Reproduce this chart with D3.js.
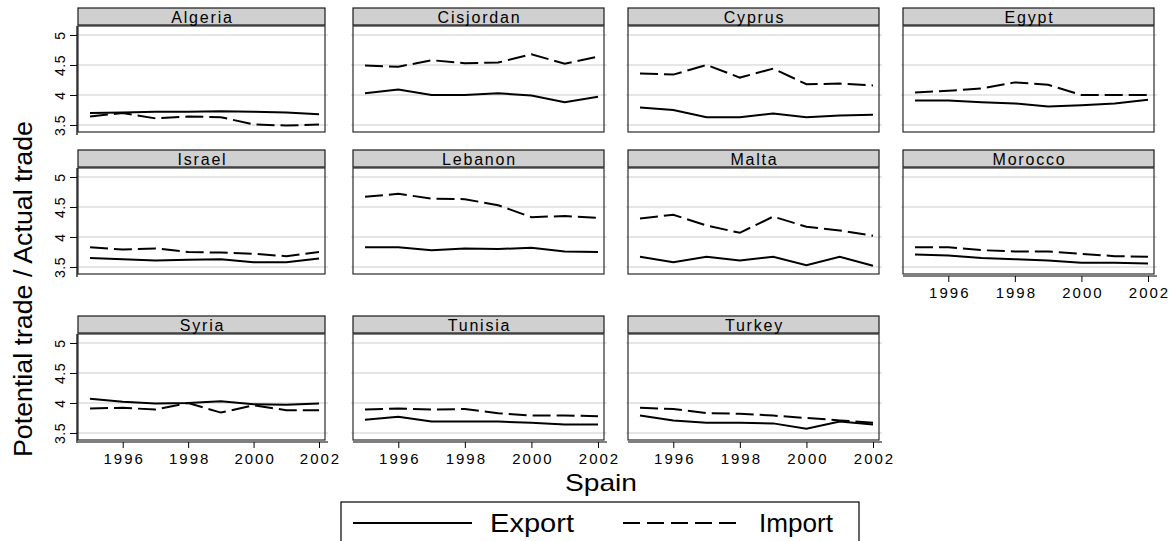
<!DOCTYPE html>
<html><head><meta charset="utf-8">
<script src="https://cdn.jsdelivr.net/npm/d3@7/dist/d3.min.js"></script>
<style>
body{margin:0;background:#fff}
text{font-family:"Liberation Sans",Arial,sans-serif;fill:#000}
</style>
</head><body>
<svg id="c" width="1169" height="541"></svg>
<script>
// ---- data ----
const years = [1995,1996,1997,1998,1999,2000,2001,2002];
const countries = ["Algeria","Cisjordan","Cyprus","Egypt","Israel","Lebanon","Malta","Morocco","Syria","Tunisia","Turkey"];
const algeriaExport   = [3.70,3.71,3.72,3.72,3.73,3.72,3.71,3.68];
const algeriaImport   = [3.64,3.70,3.61,3.64,3.63,3.51,3.49,3.51];
const cisjordanExport = [4.03,4.09,4.00,4.00,4.03,3.99,3.88,3.97];
const cisjordanImport = [4.49,4.47,4.58,4.53,4.54,4.68,4.52,4.64];
const cyprusExport    = [3.79,3.75,3.63,3.63,3.69,3.63,3.66,3.67];
const cyprusImport    = [4.36,4.34,4.50,4.29,4.44,4.18,4.19,4.16];
const egyptExport     = [3.91,3.91,3.88,3.86,3.81,3.83,3.86,3.92];
const egyptImport     = [4.04,4.07,4.11,4.21,4.17,4.00,4.00,4.00];
const israelExport    = [3.65,3.63,3.61,3.62,3.63,3.58,3.58,3.64];
const israelImport    = [3.83,3.79,3.81,3.75,3.74,3.72,3.68,3.75];
const lebanonExport   = [3.83,3.83,3.78,3.81,3.80,3.82,3.76,3.75];
const lebanonImport   = [4.67,4.72,4.64,4.63,4.53,4.33,4.35,4.32];
const maltaExport     = [3.67,3.58,3.67,3.61,3.67,3.53,3.67,3.52];
const maltaImport     = [4.31,4.37,4.19,4.07,4.34,4.17,4.11,4.02];
const moroccoExport   = [3.71,3.69,3.65,3.63,3.61,3.57,3.57,3.56];
const moroccoImport   = [3.83,3.83,3.78,3.76,3.76,3.72,3.68,3.67];
const syriaExport     = [4.07,4.02,3.99,4.00,4.03,3.98,3.97,3.99];
const syriaImport     = [3.91,3.92,3.89,4.00,3.84,3.96,3.88,3.88];
const tunisiaExport   = [3.72,3.77,3.69,3.69,3.69,3.67,3.64,3.64];
const tunisiaImport   = [3.89,3.91,3.89,3.90,3.83,3.79,3.79,3.78];
const turkeyExport    = [3.79,3.71,3.67,3.67,3.66,3.57,3.69,3.64];
const turkeyImport    = [3.92,3.90,3.83,3.82,3.79,3.75,3.71,3.67];
const yTicks = [3.5,4,4.5,5];
const xTicks = [1996,1998,2000,2002];
const seriesNames = ["Export","Import"];
const yTitle = "Potential trade / Actual trade";
const xTitle = "Spain";

const exportSeries = [algeriaExport,cisjordanExport,cyprusExport,egyptExport,israelExport,lebanonExport,maltaExport,moroccoExport,syriaExport,tunisiaExport,turkeyExport];
const importSeries = [algeriaImport,cisjordanImport,cyprusImport,egyptImport,israelImport,lebanonImport,maltaImport,moroccoImport,syriaImport,tunisiaImport,turkeyImport];

// ---- layout ----
const rowTop = [8,150,316];
const colLeft = [78,353,628,903];
const colRight = [325,604,879,1154];
const stripH = 18, plotH = 106;
const yDomain = [3.383,5.15];
const dashes = "18,6";
const svg = d3.select("#c");

countries.forEach((name,i)=>{
  const r = Math.floor(i/4), c = i%4;
  const L = colLeft[c], R = colRight[c];
  const sTop = rowTop[r], pTop = sTop+stripH, pBot = pTop+plotH;
  const x = d3.scaleLinear().domain([1995,2002]).range([L+12, R-6]);
  const y = d3.scaleLinear().domain(yDomain).range([pBot, pTop]);
  const g = svg.append("g");

  g.append("rect").attr("x",L).attr("y",pTop).attr("width",R-L).attr("height",plotH).attr("fill","#fff");
  g.selectAll(".grid").data(yTicks).join("line")
    .attr("x1",L-2).attr("x2",R+3).attr("y1",d=>y(d)).attr("y2",d=>y(d))
    .attr("stroke","#dedede").attr("stroke-width",1.6);
  g.append("rect").attr("x",L).attr("y",pTop).attr("width",R-L).attr("height",plotH)
    .attr("fill","none").attr("stroke","#2a2a2a").attr("stroke-width",1.2);

  const line = d3.line().x((d,j)=>x(years[j])).y(d=>y(d));
  g.append("path").datum(exportSeries[i]).attr("d",line).attr("fill","none")
    .attr("stroke","#000").attr("stroke-width",2);
  g.append("path").datum(importSeries[i]).attr("d",line).attr("fill","none")
    .attr("stroke","#000").attr("stroke-width",2).attr("stroke-dasharray",dashes);

  // strip
  g.append("rect").attr("x",L).attr("y",sTop).attr("width",R-L).attr("height",stripH-1)
    .attr("fill","#d0d0d0").attr("stroke","#1a1a1a").attr("stroke-width",1.2);
  g.append("text").attr("x",(L+R)/2+1).attr("y",sTop+stripH-3.5).attr("text-anchor","middle")
    .attr("font-size",16).attr("letter-spacing",1.8).text(name);

  // y axis
  if (c===0){
    const ya = g.append("g").attr("transform",`translate(${L-1},0)`)
      .call(d3.axisLeft(y).tickValues(yTicks).tickFormat(d3.format("")).tickSize(7).tickSizeOuter(0));
    ya.select(".domain").remove();
    ya.selectAll("line").attr("stroke","#000").attr("stroke-width",1);
    ya.selectAll("text").attr("font-size",14).attr("x",null).attr("dy",null)
      .attr("text-anchor","middle").attr("letter-spacing",0.5)
      .attr("transform","translate(-12,0) rotate(-90)")
      .attr("style","font-family:'Liberation Sans',Arial,sans-serif");
    g.append("line").attr("x1",L-1).attr("x2",L-1).attr("y1",pTop).attr("y2",pBot+3)
      .attr("stroke","#000").attr("stroke-width",1.2);
  }
  // x axis
  if (r===2 || (r===1 && c===3)){
    const xa = g.append("g").attr("transform",`translate(0,${pBot+2})`)
      .call(d3.axisBottom(x).tickValues(xTicks).tickFormat(d3.format("d")).tickSize(6).tickSizeOuter(0).tickPadding(5));
    xa.select(".domain").remove();
    xa.selectAll("line").attr("stroke","#000").attr("stroke-width",1);
    xa.selectAll("text").attr("font-size",15).attr("letter-spacing",2).attr("dx",1)
      .attr("fill","#000").attr("font-family","'Liberation Sans',Arial,sans-serif");
    g.append("line").attr("x1",L).attr("x2",R+3).attr("y1",pBot+2).attr("y2",pBot+2)
      .attr("stroke","#000").attr("stroke-width",1.2);
  }
});

// titles
svg.append("text").attr("transform","translate(32,289) rotate(-90)").attr("text-anchor","middle")
  .attr("font-size",25).attr("textLength",336).attr("lengthAdjust","spacingAndGlyphs").text(yTitle);
svg.append("text").attr("x",601).attr("y",491).attr("text-anchor","middle")
  .attr("font-size",24).attr("textLength",72).attr("lengthAdjust","spacingAndGlyphs").text(xTitle);

// legend
const lg = svg.append("g");
lg.append("rect").attr("x",341).attr("y",502).attr("width",518).attr("height",50)
  .attr("fill","#fff").attr("stroke","#000").attr("stroke-width",1.2);
const legendItems = [
  {name:seriesNames[0], x1:353, x2:472, tx:490, len:84, dash:null},
  {name:seriesNames[1], x1:623, x2:740, tx:759, len:74, dash:"17,7"}
];
legendItems.forEach(d=>{
  lg.append("line").attr("x1",d.x1).attr("x2",d.x2).attr("y1",523).attr("y2",523)
    .attr("stroke","#000").attr("stroke-width",2).attr("stroke-dasharray",d.dash);
  lg.append("text").attr("x",d.tx).attr("y",532).attr("font-size",25)
    .attr("textLength",d.len).attr("lengthAdjust","spacingAndGlyphs").text(d.name);
});
</script>
</body></html>
